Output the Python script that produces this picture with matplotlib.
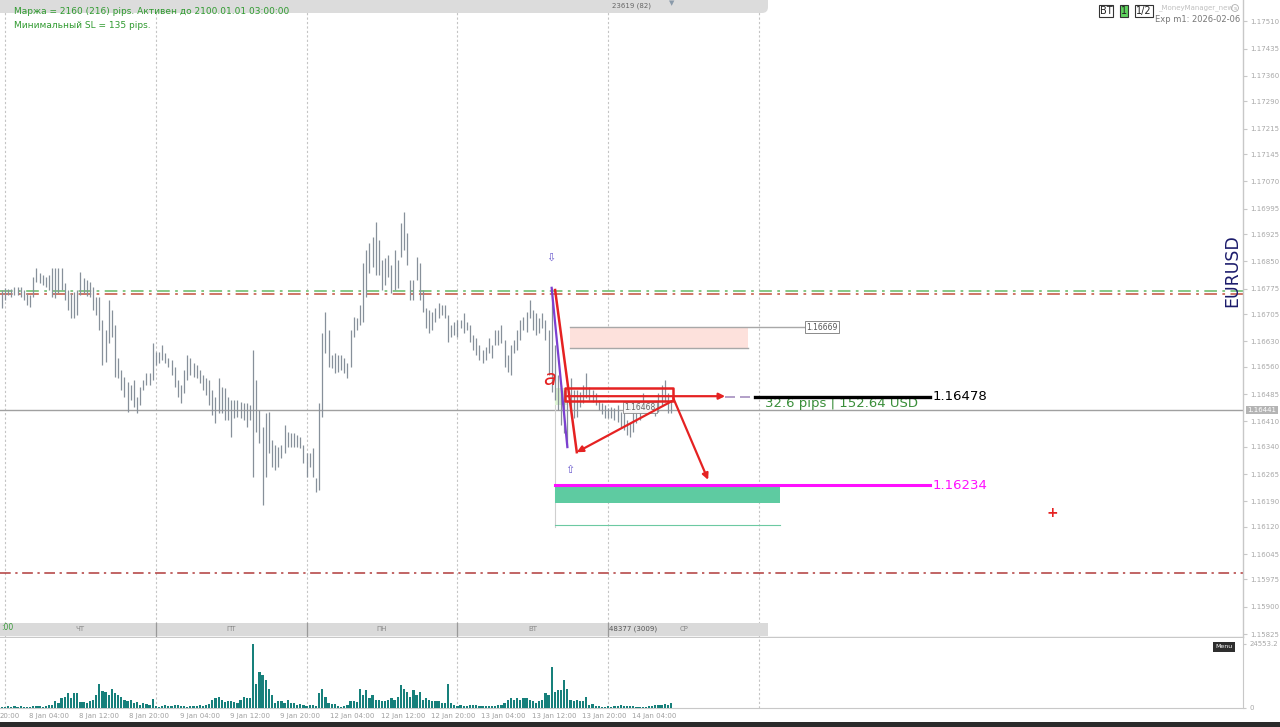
import matplotlib
matplotlib.use("Agg")
import matplotlib.pyplot as plt
from matplotlib.patches import Rectangle, FancyBboxPatch
from matplotlib.transforms import blended_transform_factory
import numpy as np

plt.rcParams['font.family'] = ['DejaVu Sans']

# ---------------- data (EURUSD M30) ----------------
bar_highs = [
    1.16771, 1.16777, 1.16774, 1.16774, 1.16779, 1.16779, 1.16779, 1.16771, 1.16763, 1.16757,
    1.16807, 1.16832, 1.16818, 1.16812, 1.16807, 1.16812, 1.16832, 1.16832, 1.16832, 1.16832,
    1.16790, 1.16771, 1.16763, 1.16766, 1.16771, 1.16821, 1.16804, 1.16799, 1.16793, 1.16779,
    1.16752, 1.16752, 1.16689, 1.16661, 1.16744, 1.16716, 1.16675, 1.16584, 1.16551, 1.16532,
    1.16518, 1.16510, 1.16524, 1.16477, 1.16504, 1.16524, 1.16543, 1.16543, 1.16625,
    1.16601, 1.16601, 1.16620, 1.16598, 1.16584, 1.16579, 1.16559, 1.16524, 1.16510, 1.16551,
    1.16592, 1.16584, 1.16570, 1.16565, 1.16551, 1.16537, 1.16529, 1.16524, 1.16496, 1.16477,
    1.16529, 1.16504, 1.16502, 1.16477, 1.16469, 1.16469, 1.16469, 1.16463, 1.16460, 1.16460,
    1.16455, 1.16606, 1.16524, 1.16441, 1.16394, 1.16433, 1.16436, 1.16359, 1.16345, 1.16339,
    1.16345, 1.16400, 1.16381, 1.16378, 1.16378, 1.16372, 1.16367, 1.16345,
    1.16323, 1.16323, 1.16337, 1.16254, 1.16460, 1.16653, 1.16711, 1.16661, 1.16592, 1.16598,
    1.16592, 1.16592, 1.16584, 1.16570, 1.16661, 1.16697, 1.16694, 1.16730, 1.16845, 1.16881,
    1.16900, 1.16917, 1.16958, 1.16909, 1.16854, 1.16859, 1.16867, 1.16840, 1.16881, 1.16854,
    1.16955, 1.16986, 1.16928, 1.16799, 1.16799, 1.16862, 1.16845, 1.16771, 1.16722, 1.16716,
    1.16711, 1.16722, 1.16735, 1.16730, 1.16730, 1.16702, 1.16675, 1.16683,
    1.16689, 1.16689, 1.16708, 1.16683, 1.16675, 1.16647, 1.16639, 1.16620, 1.16606, 1.16614,
    1.16639, 1.16620, 1.16661, 1.16661, 1.16675, 1.16634, 1.16592, 1.16620, 1.16634, 1.16661,
    1.16689, 1.16697, 1.16711, 1.16744, 1.16716, 1.16708, 1.16694, 1.16708, 1.16689, 1.16661,
    1.16777, 1.16620, 1.16537, 1.16510, 1.16496, 1.16469, 1.16529, 1.16496, 1.16496, 1.16491,
    1.16510, 1.16543, 1.16504, 1.16496, 1.16488, 1.16469, 1.16460, 1.16455,
    1.16447, 1.16449, 1.16447, 1.16455, 1.16436, 1.16433, 1.16414, 1.16405, 1.16441, 1.16433,
    1.16455, 1.16488, 1.16463, 1.16460, 1.16463, 1.16458, 1.16488, 1.16510, 1.16524, 1.16488,
    1.16469,
]
bar_lows = [
    1.16722, 1.16744, 1.16757, 1.16752, 1.16757, 1.16757, 1.16752, 1.16744, 1.16730, 1.16724,
    1.16752, 1.16793, 1.16790, 1.16785, 1.16779, 1.16771, 1.16752, 1.16749, 1.16763, 1.16771,
    1.16744, 1.16716, 1.16694, 1.16694, 1.16702, 1.16757, 1.16763, 1.16755, 1.16752, 1.16716,
    1.16702, 1.16661, 1.16565, 1.16573, 1.16625, 1.16642, 1.16532, 1.16529, 1.16496, 1.16477,
    1.16436, 1.16469, 1.16449, 1.16433, 1.16455, 1.16496, 1.16510, 1.16510, 1.16524,
    1.16565, 1.16570, 1.16579, 1.16570, 1.16559, 1.16537, 1.16504, 1.16477, 1.16460, 1.16488,
    1.16524, 1.16537, 1.16532, 1.16529, 1.16515, 1.16496, 1.16482, 1.16455, 1.16427, 1.16405,
    1.16433, 1.16433, 1.16414, 1.16414, 1.16367, 1.16419, 1.16422, 1.16419, 1.16414, 1.16394,
    1.16414, 1.16257, 1.16381, 1.16350, 1.16180, 1.16257, 1.16323, 1.16284, 1.16276, 1.16284,
    1.16309, 1.16323, 1.16339, 1.16339, 1.16339, 1.16339, 1.16337, 1.16295,
    1.16257, 1.16284, 1.16257, 1.16216, 1.16221, 1.16422, 1.16598, 1.16559, 1.16557, 1.16543,
    1.16546, 1.16551, 1.16543, 1.16529, 1.16559, 1.16642, 1.16661, 1.16675, 1.16683, 1.16752,
    1.16818, 1.16834, 1.16812, 1.16812, 1.16771, 1.16785, 1.16807, 1.16763, 1.16771, 1.16777,
    1.16862, 1.16881, 1.16840, 1.16744, 1.16744, 1.16799, 1.16744, 1.16711, 1.16667, 1.16653,
    1.16661, 1.16683, 1.16694, 1.16702, 1.16694, 1.16628, 1.16642, 1.16647,
    1.16642, 1.16667, 1.16653, 1.16661, 1.16628, 1.16606, 1.16592, 1.16579, 1.16570, 1.16579,
    1.16598, 1.16584, 1.16620, 1.16620, 1.16625, 1.16559, 1.16546, 1.16537, 1.16598, 1.16606,
    1.16634, 1.16661, 1.16656, 1.16694, 1.16661, 1.16647, 1.16653, 1.16667, 1.16634, 1.16537,
    1.16491, 1.16469, 1.16441, 1.16400, 1.16378, 1.16339, 1.16433, 1.16419, 1.16422, 1.16449,
    1.16460, 1.16474, 1.16469, 1.16463, 1.16455, 1.16441, 1.16430, 1.16419,
    1.16419, 1.16419, 1.16414, 1.16408, 1.16394, 1.16386, 1.16372, 1.16367, 1.16381, 1.16405,
    1.16414, 1.16433, 1.16433, 1.16433, 1.16436, 1.16425, 1.16436, 1.16455, 1.16463, 1.16433,
    1.16433,
]
tick_volumes = [
    300, 400, 600, 500, 700, 500, 600, 400, 500, 300, 600, 800, 700, 500, 900,
    1000, 1200, 2500, 1900, 3700, 4300, 5600, 3700, 5600, 5600, 2200, 2200, 2000, 2500, 3100,
    5000, 9300, 6500, 6000, 5000, 7400, 5600, 5000, 4300, 3100, 2500, 3100, 1900, 2200, 1200,
    1900, 1500, 1200, 3500,
    600, 500, 700, 1200, 600, 700, 1000, 1000, 700, 600, 500, 600, 700, 600, 1000, 700,
    1200, 1500, 3100, 3700, 4300, 3100, 2200, 2500, 2500, 2200, 1900, 3100, 4300, 3700,
    3700, 24500, 9300, 13600, 12400, 10500, 7400, 5000, 1900, 2500, 2700, 1900, 3100, 1900,
    1900, 1200, 1500, 1200,
    600, 1200, 1200, 600, 5600, 7400, 4300, 1900, 1500, 1500, 600, 400, 600, 1000, 2500,
    2500, 2200, 7400, 5000, 6800, 3700, 5000, 3100, 2900, 2700, 2700, 3100, 3700, 3100, 4300,
    8700, 7400, 6200, 4300, 6800, 5000, 6200, 3100, 3700, 3100, 2700, 2500, 2700, 1900, 1900,
    9300, 1900, 1000,
    600, 1000, 600, 600, 1200, 1000, 1000, 800, 700, 600, 600, 700, 600, 1000, 1200, 1900,
    3100, 3700, 3100, 3700, 3100, 3700, 3700, 3100, 2500, 1900, 2500, 3100, 5600, 5000,
    15500, 6200, 6800, 6800, 10500, 7400, 3100, 2500, 3100, 2500, 2500, 4300, 1200, 1500,
    600, 600, 500, 400,
    600, 500, 700, 600, 1000, 700, 600, 700, 600, 500, 500, 400, 500, 600, 800, 1000, 1000,
    1200, 1500, 1200, 1900,
]
price_ticks = [1.17510, 1.17435, 1.17360, 1.17290, 1.17215, 1.17145, 1.17070, 1.16995,
               1.16925, 1.16850, 1.16775, 1.16705, 1.16630, 1.16560, 1.16485, 1.16410,
               1.16340, 1.16265, 1.16190, 1.16120, 1.16045, 1.15975, 1.15900, 1.15825]
day_start_bars = [1, 49, 97, 145, 193, 241]
session_labels = ["ЧТ", "ПТ", "ПН", "ВТ", "СР"]
time_labels = ["20:00", "8 Jan 04:00", "8 Jan 12:00", "8 Jan 20:00", "9 Jan 04:00",
               "9 Jan 12:00", "9 Jan 20:00", "12 Jan 04:00", "12 Jan 12:00", "12 Jan 20:00",
               "13 Jan 04:00", "13 Jan 12:00", "13 Jan 20:00", "14 Jan 04:00"]
time_label_bars = [-0.5, 9, 25, 41, 57, 73, 89, 105, 121, 137, 153, 169, 185, 201]

current_price = 1.16441
green_level = 1.16768
red_level = 1.16761
lower_level = 1.15993
zone_top, zone_bottom = 1.16669, 1.16612
entry_level = 1.16478
target_level = 1.16234
target_zone_bottom = 1.16185
target_line2 = 1.16125
red_box_top, red_box_bottom = 1.16502, 1.16466
vol_max_label = 24553.2

# ---------------- figure ----------------
W, H = 1280, 727
fig = plt.figure(figsize=(12.8, 7.27), dpi=100)
fig.patch.set_facecolor('white')

n = len(bar_highs)
idx = np.arange(n)
xlim = (-0.59, 395.05)

ax = fig.add_axes([0, 1 - 637 / H, 1243 / W, 637 / H])
ax.set_xlim(*xlim)
ax.set_ylim(1.158168, 1.175685)
ax.set_facecolor('white')
for s in ['top', 'left']:
    ax.spines[s].set_visible(False)
for s in ['right', 'bottom']:
    ax.spines[s].set_color('#c8c8c8')
    ax.spines[s].set_linewidth(1)
ax.set_xticks([])
ax.yaxis.tick_right()
ax.set_yticks(price_ticks)
ax.set_yticklabels([f"{p:.5f}" for p in price_ticks], fontsize=5, color='#a8a8a8')
ax.tick_params(axis='y', length=3, color='#c8c8c8', pad=2, width=0.8)

# separators
for d in day_start_bars:
    ax.axvline(d, color='#c4c4c4', ls=(0, (2, 2)), lw=0.8, zorder=1)

# horizontal levels
ax.axhline(green_level, color='#7cc47c', lw=1.3, ls=(0, (7, 3, 1.5, 3)), zorder=2)
ax.axhline(red_level, color='#cc6a5a', lw=1.3, ls=(0, (7, 3, 1.5, 3)), zorder=2)
ax.axhline(lower_level, color='#b03a3a', lw=1.1, ls=(0, (7, 3, 1.5, 3)), zorder=2)
ax.axhline(current_price, color='#a0a0a0', lw=1.0, zorder=2)

# OHLC bars
ax.vlines(idx, bar_lows, bar_highs, color='#87909a', lw=0.9, zorder=3)

# objects
trans_b = blended_transform_factory(ax.transData, ax.transAxes)
# pink zone
ax.add_patch(Rectangle((180.8, zone_bottom), 237.5 - 180.8, zone_top - zone_bottom,
                       fc='#fde1dc', ec='none', zorder=2.5))
ax.plot([180.8, 255.6], [zone_top, zone_top], color='#a8a8a8', lw=1, zorder=2.6)
ax.plot([180.8, 237.5], [zone_bottom, zone_bottom], color='#a8a8a8', lw=1, zorder=2.6)
ax.text(256.0, zone_top, "1.16669", fontsize=5.5, color='#555555', va='center', ha='left',
        bbox=dict(boxstyle='square,pad=0.15', fc='white', ec='#777777', lw=0.6), zorder=6)

# target zone
ax.add_patch(Rectangle((176.1, target_zone_bottom), 247.7 - 176.1, target_level - target_zone_bottom,
                       fc='#5ecba1', ec='none', zorder=2.5))
ax.plot([176.1, 247.7], [target_line2, target_line2], color='#6cc9a2', lw=0.8, zorder=2.6)
ax.plot([176.1, 176.1], [target_line2 - 0.00005, 1.16482], color='#cfcfcf', lw=0.8, zorder=2.4)
ax.plot([176.1, 295.4], [target_level, target_level], color='#ff10ff', lw=2.2, zorder=4)
ax.text(296.1, target_level, "1.16234", fontsize=9.5, color='#ff10ff', va='center', ha='left')

# entry line
ax.add_patch(Rectangle((176.1, 1.16455), 179.9 - 176.1, 1.16502 - 1.16455,
                       fc='#dcf3d2', ec='none', zorder=2.5))
ax.plot([239.7, 295.4], [entry_level, entry_level], color='black', lw=2.4, zorder=4)
ax.plot([230.2, 239.7], [entry_level, entry_level], color='#a58fbf', lw=1.2,
        ls=(0, (6, 3)), zorder=4)
ax.text(296.1, entry_level, "1.16478", fontsize=9.5, color='black', va='center', ha='left')
ax.text(242.9, 1.16458, "32.6 pips | 152.64 USD", fontsize=9.5, color='#3b8f3b',
        va='center', ha='left')
ax.text(203.2, 1.16447, "1.16468", fontsize=5.5, color='#666666', va='center', ha='center',
        bbox=dict(boxstyle='square,pad=0.15', fc='#f4f4f4', ec='#888888', lw=0.6), zorder=6)

# purple zigzag leg
ax.plot([175, 180], [bar_highs[175], bar_lows[180]], color='#7b3fd0', lw=1.6, zorder=5)

# red hand drawings
red = '#e52222'
ax.add_patch(Rectangle((179.2, red_box_bottom), 213.6 - 179.2, red_box_top - red_box_bottom,
                       fc='none', ec=red, lw=1.8, zorder=6, joinstyle='round'))
ax.plot([176.1, 183.0], [1.16771, 1.16325], color=red, lw=1.8, zorder=6)
arrow_kw = dict(arrowstyle='-|>', color=red, lw=1.6, mutation_scale=9, shrinkA=0, shrinkB=0)
ax.annotate('', xy=(183.0, 1.16325), xytext=(213.4, 1.16466), arrowprops=arrow_kw, zorder=6)
ax.annotate('', xy=(224.8, 1.16249), xytext=(213.7, 1.16474), arrowprops=arrow_kw, zorder=6)
ax.annotate('', xy=(230.2, 1.16479), xytext=(179.9, 1.16479), arrowprops=arrow_kw, zorder=6)
ax.text(174.3, 1.16527, "a", fontsize=15, color=red, style='italic', ha='center', va='center',
        zorder=7)
ax.text(174.8, 1.16859, "⇩", fontsize=8, color='#6a5acd', ha='center', va='center')
ax.text(180.8, 1.16276, "⇧", fontsize=8, color='#6a5acd', ha='center', va='center')
ax.text(334.3, 1.16158, "+", fontsize=10, color='#e52222', ha='center', va='center',
        fontweight='bold')

# current price box
ax.annotate(f"{current_price:.5f}", xy=(1.0, current_price), xycoords=('axes fraction', 'data'),
            xytext=(3, 0), textcoords='offset points', fontsize=5, color='white',
            va='center', ha='left',
            bbox=dict(boxstyle='square,pad=0.2', fc='#b4b4b4', ec='none'), zorder=8,
            annotation_clip=False)

# bottom session band
ax.add_patch(Rectangle((xlim[0], 0.0016), 243.9 - xlim[0], 0.021, transform=trans_b,
                       fc='#dadada', ec='none', zorder=7))
for d in day_start_bars[1:5]:
    ax.plot([d, d], [0.0016, 0.0226], transform=trans_b, color='#9a9a9a', lw=0.9, zorder=7.5)
for i, lab in enumerate(session_labels):
    ax.text((day_start_bars[i] + day_start_bars[i + 1]) / 2, 0.0125, lab, transform=trans_b,
            fontsize=5, color='#8a8a8a', ha='center', va='center', zorder=8)
ax.text(day_start_bars[4] + 0.4, 0.0125, "48377 (3009)", transform=trans_b, fontsize=5,
        color='#555555', ha='left', va='center', zorder=8)
ax.text(xlim[0] + 0.2, 0.0145, ":00", transform=trans_b, fontsize=5.5, color='#3a9a3a',
        ha='left', va='center', zorder=8)

# ---------------- volume panel ----------------
axv = fig.add_axes([0, 1 - 708 / H, 1243 / W, 70 / H])
axv.set_xlim(*xlim)
axv.set_ylim(0, 26650)
axv.bar(idx, tick_volumes, width=0.72, color='#17807b', zorder=3)
for s in ['top', 'left']:
    axv.spines[s].set_visible(False)
for s in ['right', 'bottom']:
    axv.spines[s].set_color('#c8c8c8')
axv.set_xticks([])
axv.yaxis.tick_right()
axv.set_yticks([0, vol_max_label])
axv.set_yticklabels(['0', f"{vol_max_label:.1f}"], fontsize=5, color='#a8a8a8')
axv.tick_params(axis='y', length=2, color='#c8c8c8', pad=3)
for d in day_start_bars:
    axv.axvline(d, color='#c4c4c4', ls=(0, (2, 2)), lw=0.8, zorder=1)
trans_v = blended_transform_factory(axv.transData, axv.transAxes)
for k, lab in zip(time_label_bars, time_labels):
    axv.text(k - 0.4, -0.12, lab, transform=trans_v, fontsize=5, color='#a0a0a0',
             ha='left', va='center', clip_on=False)

# ---------------- overlay (terminal UI) ----------------
ov = fig.add_axes([0, 0, 1, 1], zorder=10)
ov.set_xlim(0, W)
ov.set_ylim(H, 0)
ov.axis('off')
ov.patch.set_alpha(0)

ov.add_patch(FancyBboxPatch((-10, -8), 778, 21, boxstyle='round,pad=0,rounding_size=6',
                            fc='#dcdcdc', ec='none'))
ov.text(14, 11, "Маржа = 2160 (216) pips. Активен до 2100.01.01 03:00:00", fontsize=6.5,
        color='#2f9a2f', ha='left', va='center')
ov.text(14, 26, "Минимальный SL = 135 pips.", fontsize=6.5, color='#2f9a2f',
        ha='left', va='center')
ov.text(612, 6, "23619 (82)", fontsize=5, color='#666666', ha='left', va='center')
ov.text(672, 3, "▼", fontsize=5, color='#8a9aaa', ha='center', va='center')

box_kw = dict(boxstyle='square,pad=0.12', ec='#333333', lw=0.8)
ov.text(1106, 11, "BT", fontsize=7, ha='center', va='center', color='#222222',
        bbox=dict(fc='white', **box_kw))
ov.text(1124, 11, "1", fontsize=7, ha='center', va='center', color='#222222',
        bbox=dict(fc='#5fd35f', **box_kw))
ov.text(1144, 11, "1/2", fontsize=7, ha='center', va='center', color='#222222',
        bbox=dict(fc='white', **box_kw))
ov.text(1158, 8, "_MoneyManager_new", fontsize=5, color='#c0c0c0', ha='left', va='center')
ov.text(1235, 8, "s", fontsize=4.5, color='#b0b0b0', ha='center', va='center',
        bbox=dict(boxstyle='circle,pad=0.15', fc='none', ec='#b0b0b0', lw=0.6))
ov.text(1240, 19, "Exp m1: 2026-02-06", fontsize=6, color='#777777', ha='right', va='center')
ov.text(1232, 271, "EURUSD", fontsize=12.5, color='#1b1b6b', rotation=90,
        ha='center', va='center')
ov.text(1224, 647, "Menu", fontsize=4.5, color='white', ha='center', va='center',
        bbox=dict(boxstyle='square,pad=0.35', fc='#2e2e2e', ec='none'))
ov.add_patch(Rectangle((0, 722), W, 6, fc='#2b2b2b', ec='none'))

fig.savefig('out.png', dpi=100)
